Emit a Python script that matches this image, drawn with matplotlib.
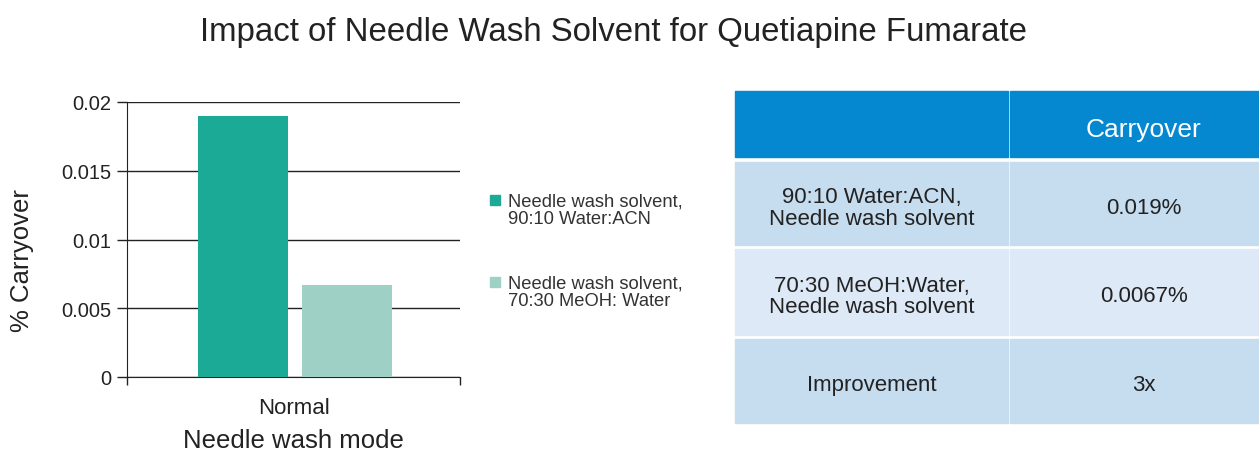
import matplotlib.pyplot as plt
from matplotlib.patches import Rectangle

plt.rcParams['font.family'] = ['Liberation Sans', 'DejaVu Sans']

# chart data
category = ['Normal']
series_names = ['Needle wash solvent,\n90:10 Water:ACN', 'Needle wash solvent,\n70:30 MeOH: Water']
carryover = [0.019, 0.0067]
bar_colors = ['#1aaa96', '#9fd0c6']

# table data
table_header = ['', 'Carryover']
table_rows = [['90:10 Water:ACN,\nNeedle wash solvent', '0.019%'],
              ['70:30 MeOH:Water,\nNeedle wash solvent', '0.0067%'],
              ['Improvement', '3x']]
row_colors = ['#c6dcef', '#dde9f6', '#c6dcef']
header_color = '#0688d0'

fig = plt.figure(figsize=(12.59, 4.52), dpi=100)
W, H = 1259, 452

fig.text(613 / W, 1 - 33 / H, 'Impact of Needle Wash Solvent for Quetiapine Fumarate',
         ha='center', va='center', fontsize=23.8, color='#222222')

# bar chart
ax = fig.add_axes([127 / W, 1 - 378 / H, (460 - 127) / W, (378 - 103) / H])
width = 0.27
offsets = [-0.152, 0.16]
for name, val, col, off in zip(series_names, carryover, bar_colors, offsets):
    ax.bar(0 + off, val, width=width, color=col, label=name, zorder=3)
ax.set_xlim(-0.5, 0.5)
ax.set_ylim(0, 0.02)
ax.set_yticks([0, 0.005, 0.01, 0.015, 0.02])
ax.set_yticklabels(['0', '0.005', '0.01', '0.015', '0.02'])
ax.yaxis.grid(True, color='#222222', linewidth=1, zorder=0)
ax.set_xticks([-0.5, 0.5])
ax.set_xticklabels(['', ''])
ax.text(0, -0.0022, category[0], ha='center', va='center', fontsize=16, color='#222222')
ax.text(0, -0.0046, 'Needle wash mode', ha='center', va='center', fontsize=18.5,
        color='#222222')
fig.text(22 / W, 1 - 261 / H, '% Carryover', rotation=90, ha='center', va='center',
         fontsize=18.5, color='#222222')
for s in ['top', 'right']:
    ax.spines[s].set_visible(False)
ax.spines['left'].set_color('#222222')
ax.spines['bottom'].set_color('#222222')
ax.tick_params(axis='y', length=7, width=1, labelsize=14.5, colors='#222222', pad=4)
ax.tick_params(axis='x', length=6, width=1, direction='out', colors='#222222')

# overlay in pixel space for legend and table
tax = fig.add_axes([0, 0, 1, 1])
tax.set_xlim(0, W)
tax.set_ylim(H, 0)
tax.axis('off')

legend_y = [211, 293]
for name, col, ly in zip(series_names, bar_colors, legend_y):
    tax.add_patch(Rectangle((490, ly - 15), 10, 10, color=col))
    tax.text(508, ly, name, ha='left', va='center', fontsize=13.2, color='#333333',
             linespacing=1.05)

col_edges = [735, 1008, 1278]
row_edges = [92, 161, 248, 338, 424]
gap = 2
for c in range(2):
    x0, x1 = col_edges[c] + (gap if c else 0), col_edges[c + 1]
    tax.add_patch(Rectangle((x0, row_edges[0]), x1 - x0, row_edges[1] - row_edges[0] - 3,
                            color=header_color))
    if table_header[c]:
        tax.text((x0 + x1) / 2, (row_edges[0] + row_edges[1]) / 2 + 4, table_header[c],
                 ha='center', va='center', fontsize=19, color='white')
    for r, row in enumerate(table_rows):
        y0 = row_edges[r + 1] + gap
        y1 = row_edges[r + 2] - (gap if r < len(table_rows) - 1 else 0)
        tax.add_patch(Rectangle((x0, y0), x1 - x0, y1 - y0, color=row_colors[r]))
        tax.text((x0 + x1) / 2, (y0 + y1) / 2 + 4, row[c], ha='center', va='center',
                 fontsize=16, color='#222222', linespacing=1.05)

fig.savefig('out.png', dpi=100)
